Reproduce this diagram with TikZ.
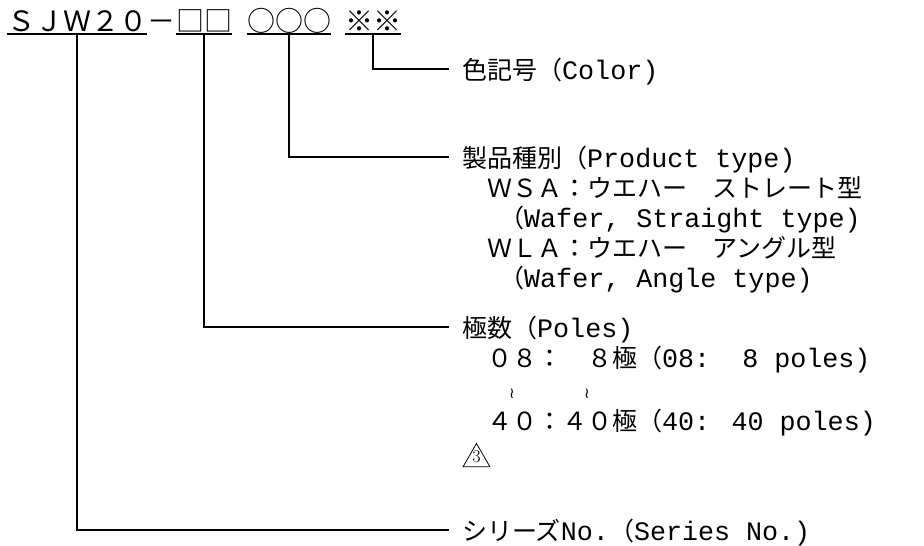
\documentclass[tikz,border=0pt]{standalone}
\usepackage{fontspec}
\newfontfamily\jpf{Noto Sans CJK JP}
\newfontfamily\monof{Liberation Mono}
\newfontfamily\djv{DejaVu Sans}
\usetikzlibrary{shapes.geometric}
\newcommand\lat[1]{{\monof\fontsize{26.7}{30}\selectfont #1}}
\begin{document}
\begin{tikzpicture}[x=1pt,y=-1pt,
  hdr/.style={anchor=base west,inner sep=0pt,font=\jpf\fontsize{28}{30}\selectfont},
  lbl/.style={anchor=base west,inner sep=0pt,text height=20pt,text depth=0pt,font=\jpf\fontsize{25}{30}\selectfont},
  conn/.style={line width=2pt},
  uline/.style={line width=2pt},
  wave/.style={inner sep=0pt,font=\djv\fontsize{15}{15}\selectfont},
  mark3/.style={draw,line width=0.8pt,regular polygon,regular polygon sides=3,minimum size=31pt,inner sep=0pt}]
\useasboundingbox (0,0) rectangle (924,546);
% header
\node[hdr] (g1) at (7,31) {ＳＪＷ２０};
\node[hdr] (gd) at (147,31) {－};
\node[hdr] (g2) at (176,31) {□□};
\node[hdr] (g3) at (247,31) {○○○};
\node[hdr] (g4) at (345,31) {※※};
\foreach \g in {g1,g2,g3,g4}
  \draw[uline] ([yshift=-3pt]\g.base west) -- ([yshift=-3pt]\g.base east);
% labels
\node[lbl] (c1) at (462,79) {色記号（\lat{Color)}};
\node[lbl] (p0) at (462,167) {製品種別（\lat{Product type)}};
\node[lbl] (p1) at (462,197) {　ＷＳＡ：ウエハー　ストレート型};
\node[lbl] (p2) at (474,227) {　（\lat{Wafer, Straight type)}};
\node[lbl] (p3) at (462,257) {　ＷＬＡ：ウエハー　アングル型};
\node[lbl] (p4) at (474,287) {　（\lat{Wafer, Angle type)}};
\node[lbl] (q0) at (462,337) {極数（\lat{Poles)}};
\node[lbl] (q1) at (462,367) {　０８：　８極（\lat{08:\ \ 8 poles)}};
\node[wave] (t1) at (512,394) {≀};
\node[wave] (t2) at (587,394) {≀};
\node[lbl] (q2) at (462,430) {　４０：４０極（\lat{40: 40 poles)}};
\node[mark3] (m3) at (476.5,459) {};
\node[font=\fontsize{18}{18}\selectfont,inner sep=0pt] (m3t) at ([yshift=2pt]m3.center) {3};
\node[lbl] (s0) at (462,540) {シリーズ\lat{No.}（\lat{Series No.)}};
% connectors
\draw[conn] ([yshift=-3pt]g4.base) |- ([xshift=-13pt]c1.west);
\draw[conn] ([yshift=-3pt]g3.base) |- ([xshift=-13pt]p0.west);
\draw[conn] ([yshift=-3pt]g2.base) |- ([xshift=-13pt]q0.west);
\draw[conn] ([yshift=-3pt]g1.base) |- ([xshift=-13pt]s0.west);
\end{tikzpicture}
\end{document}
